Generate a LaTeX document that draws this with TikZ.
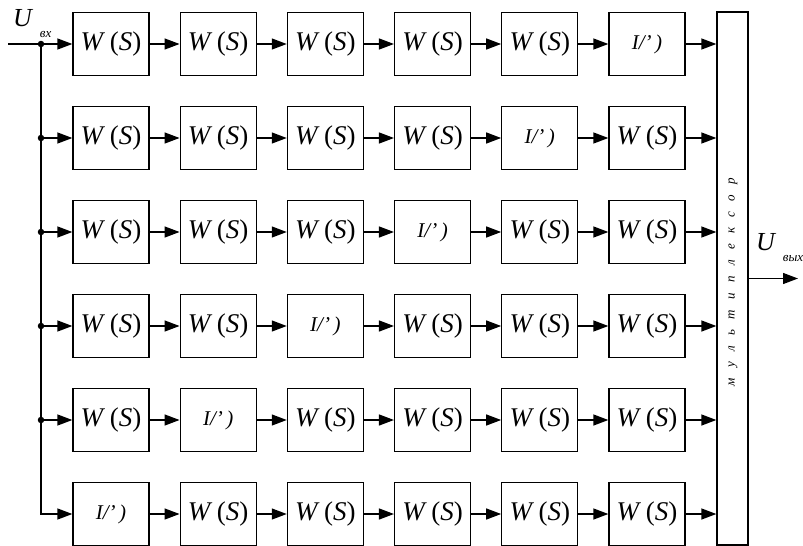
\documentclass[tikz,border=0pt]{standalone}
\usepackage{fontspec}
\setmainfont{Liberation Serif}
\usetikzlibrary{arrows.meta}

\tikzset{
  blk/.style={draw, line width=1.3pt, minimum width=76pt, minimum height=63pt,
    inner sep=0pt, font=\fontsize{27}{30}\selectfont},
  link/.style={line width=1.3pt, -{Triangle[length=15pt,width=11pt]}},
  jdot/.style={circle, fill, inner sep=0pt, minimum size=6.5pt},
}

\newcommand{\wtext}{\textit{W}\,(\textit{S})}
\newcommand{\dtext}{\fontsize{21}{24}\selectfont\textit{I/'\,)}}
\newcommand{\ulabel}[1]{{\fontsize{26}{28}\selectfont\itshape U}%
  \raisebox{-11pt}{\fontsize{13}{14}\selectfont\itshape\hspace{8pt}#1}}

\begin{document}
\begin{tikzpicture}[x=1pt, y=-1pt]
  \useasboundingbox (0,0) rectangle (803,546);

  %% ---- Parameters ----
  \pgfmathsetmacro{\dx}{107.2}
  \pgfmathsetmacro{\dy}{94}

  %% ---- Blocks: W(S) everywhere, the other one on the anti-diagonal ----
  \foreach \r in {1,...,6}{
    \foreach \c in {1,...,6}{
      \ifnum\numexpr\r+\c\relax=7
        \node[blk] (b\r\c) at ({111+(\c-1)*\dx}, {44+(\r-1)*\dy}) {\dtext};
      \else
        \node[blk] (b\r\c) at ({111+(\c-1)*\dx}, {44+(\r-1)*\dy}) {\wtext};
      \fi
    }
  }

  %% ---- Multiplexer ----
  \node[draw, line width=1.3pt, minimum width=31pt, minimum height=533pt,
    inner sep=0pt] (mux) at (732.5, 278.5) {};
  \node[rotate=90, font=\fontsize{13}{14}\selectfont\itshape\addfontfeature{LetterSpace=80}]
    (muxlabel) at (733, 282) {мультиплексор};

  %% ---- Chains ----
  \foreach \r in {1,...,6}{
    \foreach \c [evaluate=\c as \n using int(\c+1)] in {1,...,5}{
      \draw[link] (b\r\c.east) -- (b\r\n.west);
    }
    \draw[link] (b\r6.east) -- (b\r6.east -| mux.west);
  }

  %% ---- Input bus ----
  \coordinate (uin) at (8, 44);
  \foreach \r in {1,...,6}{
    \coordinate (t\r) at (41, {44+(\r-1)*\dy});
  }
  \draw[line width=1.3pt] (uin) -- (t1);
  \draw[link] (t1) -- (t6) -- (b61.west);
  \foreach \r in {1,...,5}{
    \draw[link] (t\r) -- (b\r1.west);
    \node[jdot] (d\r) at (t\r) {};
  }

  %% ---- Output ----
  \coordinate (uout) at (798, 278.5);
  \draw[link] (mux.east) -- (uout);

  %% ---- Labels ----
  \node[anchor=base west, inner sep=0pt] (lin) at (13, 26) {\ulabel{вх}};
  \node[anchor=base west, inner sep=0pt] (lout) at (756, 250) {\ulabel{вых}};

\end{tikzpicture}
\end{document}
